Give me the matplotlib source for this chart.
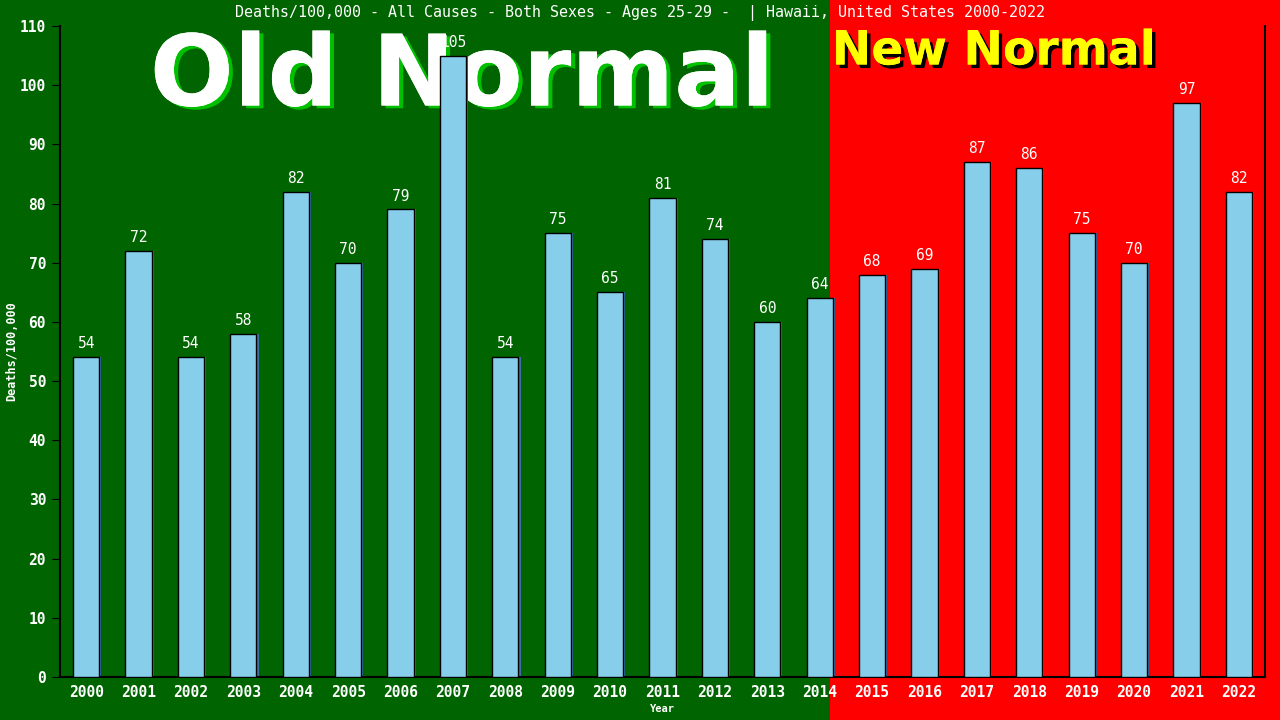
import matplotlib
matplotlib.use("Agg")
import matplotlib.pyplot as plt
import matplotlib.patheffects as pe

years = [str(y) for y in range(2000, 2023)]
values = [54, 72, 54, 58, 82, 70, 79, 105, 54, 75, 65, 81, 74, 60, 64, 68, 69, 87, 86, 75, 70, 97, 82]
title = "Deaths/100,000 - All Causes - Both Sexes - Ages 25-29 -  | Hawaii, United States 2000-2022"
ylabel = "Deaths/100,000"
xlabel = "Year"
yticks = list(range(0, 111, 10))

W, H = 1280, 720
fig = plt.figure(figsize=(12.8, 7.2), dpi=100)
fig.patch.set_facecolor("#006400")

# background axes: red region + big texts (behind bars)
bg = fig.add_axes([0, 0, 1, 1], zorder=0)
bg.set_xlim(0, W)
bg.set_ylim(H, 0)
bg.axis("off")
bg.add_patch(plt.Rectangle((830, 0), W - 830, H, facecolor="#ff0000", edgecolor="none"))
bg.text(462, 78, "Old Normal", ha="center", va="center", color="white",
        fontsize=71, fontweight="bold", family="DejaVu Sans",
        path_effects=[pe.withSimplePatchShadow(offset=(3, -2), shadow_rgbFace="#00c000", alpha=1),
                      pe.Normal()])
bg.text(994, 52, "New Normal", ha="center", va="center", color="#ffff00",
        fontsize=34, fontweight="bold", family="DejaVu Sans",
        path_effects=[pe.withSimplePatchShadow(offset=(2.5, -2.5), shadow_rgbFace="black", alpha=1),
                      pe.Normal()])

ax = fig.add_axes([60 / W, (720 - 677) / H, (1265 - 60) / W, (677 - 26) / H], zorder=1)
ax.patch.set_alpha(0)
x = list(range(len(years)))
ax.bar(x, values, width=0.5, color="#87ceeb", edgecolor="black", linewidth=1, zorder=3)
ax.bar([i + 0.27 for i in x], values, width=0.04, color="#3a6ea5", edgecolor="none", zorder=2)

mono = "DejaVu Sans Mono"
for i, v in zip(x, values):
    ax.text(i, v + 1.0, str(v), ha="center", va="bottom", color="white", fontsize=10.5,
            family=mono, zorder=5)

ax.set_xlim(-0.5, len(years) - 0.5)
ax.set_ylim(0, 110)
ax.set_yticks(yticks)
ax.set_yticklabels([str(t) for t in yticks], color="white", fontsize=10.5, family=mono,
                   fontweight="bold")
ax.set_xticks(x)
ax.set_xticklabels(years, color="white", fontsize=10.5, family=mono, fontweight="bold")
ax.tick_params(axis="y", direction="out", length=6, color="black", pad=4)
ax.tick_params(axis="x", length=0, pad=6)
for s in ["left", "bottom", "right"]:
    ax.spines[s].set_color("black")
    ax.spines[s].set_linewidth(1.5)
ax.spines["top"].set_visible(False)

ax.set_ylabel(ylabel, color="white", fontsize=8.5, family=mono, fontweight="bold")
ax.yaxis.set_label_coords((18 - 60) / 1205, 0.5)
ax.set_xlabel(xlabel, color="white", fontsize=7.5, family=mono, fontweight="bold", labelpad=3)

fig.text(640 / W, 1 - 13 / H, title, ha="center", va="center", color="white",
         fontsize=10.8, family=mono, zorder=3)

fig.savefig("out.png", dpi=100, facecolor=fig.get_facecolor())
